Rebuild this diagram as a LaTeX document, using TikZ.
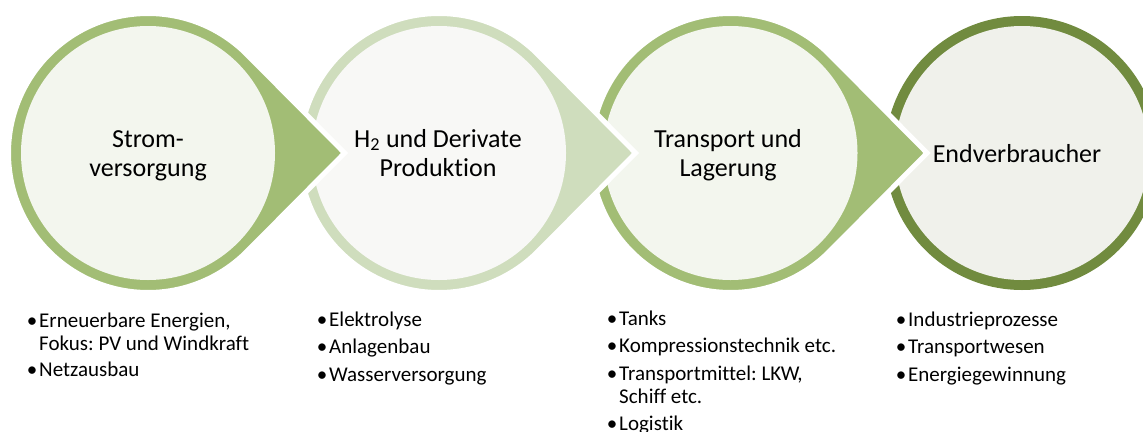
\documentclass[tikz,border=0pt]{standalone}
\usepackage{fontspec}
\setmainfont{Carlito}[Ligatures=NoCommon]
\usetikzlibrary{calc}

\definecolor{ringmid}{HTML}{A2BD75}
\definecolor{ringlight}{HTML}{CFDDBD}
\definecolor{ringdark}{HTML}{718B3F}
\definecolor{innermid}{HTML}{F3F6EE}
\definecolor{innerlight}{HTML}{F8F8F6}
\definecolor{innerdark}{HTML}{F0F1EB}

% bullet column of the lists below the stages
\newcommand{\bulletcol}{\makebox[14pt][c]{\textbullet}}

\begin{document}
\frenchspacing
\begin{tikzpicture}[x=1pt,y=1pt,
  stageshape/.style={fill=#1, draw=white, line width=5pt, line join=miter},
  stagecore/.style={fill=#1},
  stagetitle/.style={font=\fontsize{26}{29}\selectfont, align=center, anchor=base, inner sep=0pt},
  stagelist/.style={font=\fontsize{21}{23}\selectfont, anchor=north west, inner sep=0pt}]
\useasboundingbox (0,0) rectangle (1143,-431);
\clip (0,0) rectangle (1143,-431);

% geometry of one stage: ring radius, core radius, tip distance, tangent angle
\def\Rp{139.5}
\def\Ri{127}
\def\Dp{196.5}
\def\Al{44.77}

\coordinate (c1) at (148,-153);
\coordinate (c2) at (439,-153);
\coordinate (c3) at (730.5,-153);
\coordinate (c4) at (1022,-153);

% last stage: plain ring
\fill[ringdark] (c4) circle (137);
\fill[stagecore=innerdark] (c4) circle (\Ri);

% stages with arrow tips, drawn right to left so each tip lies on the next ring
\foreach \k/\rc/\ic in {3/ringmid/innermid, 2/ringlight/innerlight, 1/ringmid/innermid}{
  \path[stageshape=\rc] ($(c\k)+(\Dp,0)$) -- ($(c\k)+(\Al:\Rp)$)
    arc[start angle=\Al, end angle=360-\Al, radius=\Rp] -- cycle;
  \fill[stagecore=\ic] (c\k) circle (\Ri);
}

% stage titles (base anchor sits on the last line)
\node[stagetitle] (title1) at (148,-176) {Strom-\\versorgung};
\node[stagetitle] (title2) at (438,-176) {H\textsubscript{2} und Derivate\\Produktion};
\node[stagetitle] (title3) at (728,-176) {Transport und\\Lagerung};
\node[stagetitle] (title4) at (1017,-162) {Endverbraucher};

% lists below the stages
\node[stagelist] (list1) at (25,-311) {\begin{tabular}{@{}l@{}l@{}}
\bulletcol & Erneuerbare Energien,\\
 & Fokus: PV und Windkraft\\[3.5pt]
\bulletcol & Netzausbau
\end{tabular}};
\node[stagelist] (list2) at (315,-310) {\begin{tabular}{@{}l@{}l@{}}
\bulletcol & Elektrolyse\\[4.5pt]
\bulletcol & Anlagenbau\\[4.5pt]
\bulletcol & Wasserversorgung
\end{tabular}};
\node[stagelist] (list3) at (605,-309) {\begin{tabular}{@{}l@{}l@{}}
\bulletcol & Tanks\\[4.5pt]
\bulletcol & Kompressionstechnik etc.\\[4.5pt]
\bulletcol & Transportmittel: LKW,\\
 & Schiff etc.\\[4.5pt]
\bulletcol & Logistik
\end{tabular}};
\node[stagelist] (list4) at (894,-310) {\begin{tabular}{@{}l@{}l@{}}
\bulletcol & Industrieprozesse\\[4.5pt]
\bulletcol & Transportwesen\\[4.5pt]
\bulletcol & Energiegewinnung
\end{tabular}};
\end{tikzpicture}
\end{document}
